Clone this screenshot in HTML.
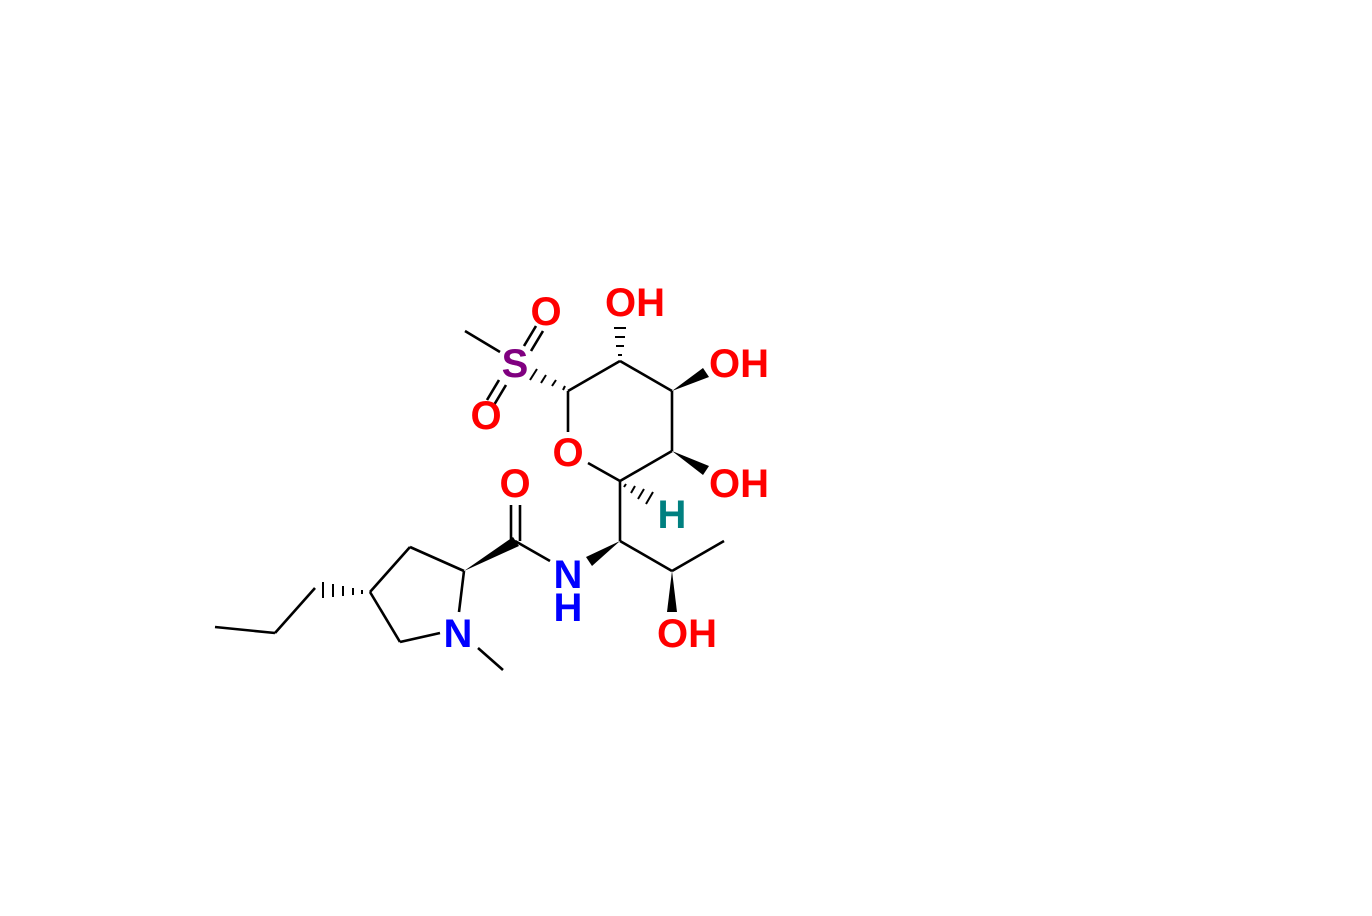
<!DOCTYPE html>
<html><head><meta charset="utf-8"><style>
html,body{margin:0;padding:0;background:#fff;}
svg{display:block}
text{font-family:"Liberation Sans",sans-serif;font-weight:bold;font-size:40px;text-anchor:middle}
</style></head><body>
<svg width="1372" height="916" viewBox="0 0 1372 916" xmlns="http://www.w3.org/2000/svg">
<g stroke="#000" stroke-width="2.6" fill="none" stroke-linecap="butt">
<line x1="568" y1="391" x2="620" y2="361"/>
<line x1="620" y1="361" x2="672" y2="391"/>
<line x1="672" y1="391" x2="672" y2="451"/>
<line x1="672" y1="451" x2="620" y2="481"/>
<line x1="620" y1="481" x2="588" y2="463"/>
<line x1="568" y1="391" x2="568" y2="432"/>
<line x1="465" y1="331" x2="500" y2="352"/>
<line x1="524" y1="346" x2="536" y2="326"/><line x1="531" y1="351" x2="543" y2="331"/>
<line x1="499" y1="380" x2="487" y2="400"/><line x1="506" y1="385" x2="494" y2="405"/>
<line x1="620" y1="481" x2="620" y2="541"/>
<line x1="620" y1="541" x2="672" y2="571"/>
<line x1="672" y1="571" x2="724" y2="541"/>
<line x1="515" y1="541" x2="550" y2="561"/>
<line x1="511" y1="541" x2="511" y2="505"/><line x1="520" y1="541" x2="520" y2="505"/>
<line x1="464" y1="571" x2="410" y2="547"/>
<line x1="410" y1="547" x2="370" y2="592"/>
<line x1="370" y1="592" x2="400" y2="642"/>
<line x1="400" y1="642" x2="440" y2="633"/>
<line x1="464" y1="571" x2="459" y2="612"/>
<line x1="478" y1="648" x2="503" y2="670"/>
<line x1="315" y1="588" x2="275" y2="633"/>
<line x1="275" y1="633" x2="215" y2="627"/>
</g>
<g fill="#000">
<polygon points="672,391 703,368 709,377"/>
<polygon points="672,451 709,466 703,475"/>
<polygon points="620,541 586,557 592,566"/>
<polygon points="464,571 513,537 519,546"/>
<polygon points="672,571 667,612 677,612"/>
</g>
<g stroke="#000" stroke-width="2">
<line x1="565" y1="386" x2="563" y2="390"/><line x1="556" y1="380" x2="552" y2="386"/><line x1="546" y1="375" x2="541" y2="383"/><line x1="537" y1="369" x2="530" y2="380"/>
<line x1="618" y1="355" x2="622" y2="355"/><line x1="616" y1="346" x2="624" y2="346"/><line x1="615" y1="337" x2="625" y2="337"/><line x1="614" y1="328" x2="626" y2="328"/>
<line x1="626" y1="484" x2="624" y2="487"/><line x1="635" y1="486" x2="631" y2="493"/><line x1="644" y1="489" x2="638" y2="499"/><line x1="653" y1="492" x2="646" y2="504"/>
<line x1="362" y1="590" x2="362" y2="594"/><line x1="353" y1="588" x2="353" y2="595"/><line x1="343" y1="586" x2="343" y2="596"/><line x1="333" y1="584" x2="333" y2="597"/><line x1="323" y1="582" x2="323" y2="598"/>
</g>
<text x="546" y="325" fill="#f00">O</text>
<text x="515" y="377" fill="#800080">S</text>
<text x="486" y="429" fill="#f00">O</text>
<text x="635" y="316" fill="#f00">OH</text>
<text x="739" y="377" fill="#f00">OH</text>
<text x="568" y="466" fill="#f00">O</text>
<text x="739" y="497" fill="#f00">OH</text>
<text x="672" y="528" fill="#008080">H</text>
<text x="515" y="497" fill="#f00">O</text>
<text x="568" y="588" fill="#00f">N</text>
<text x="568" y="621" fill="#00f">H</text>
<text x="687" y="647" fill="#f00">OH</text>
<text x="458" y="647" fill="#00f">N</text>
</svg>
</body></html>
